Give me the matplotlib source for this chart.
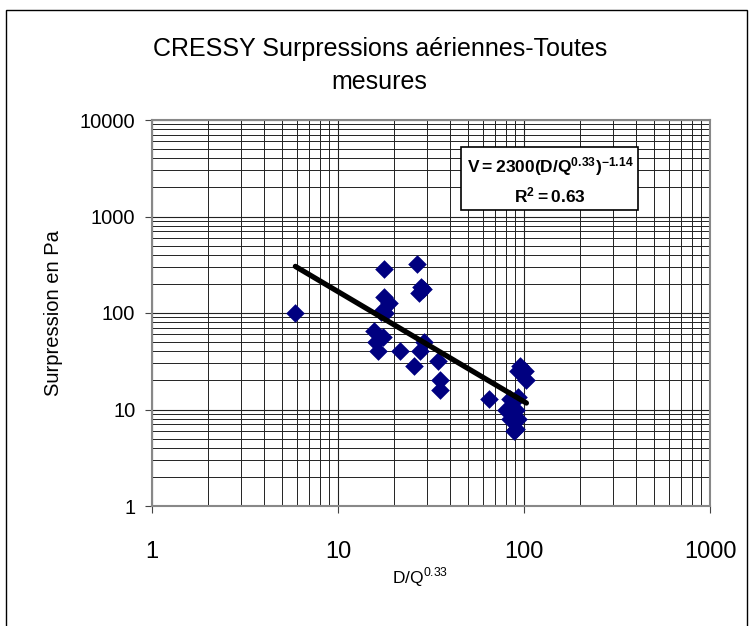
import matplotlib
matplotlib.use("Agg")
import matplotlib.pyplot as plt
import numpy as np
from matplotlib.patches import Rectangle

plt.rcParams['font.family'] = ['Liberation Sans', 'DejaVu Sans']
plt.rcParams['mathtext.fontset'] = 'custom'
plt.rcParams['mathtext.rm'] = 'Liberation Sans'
plt.rcParams['mathtext.bf'] = 'Liberation Sans:bold'

# D/Q^0.33 et surpression (Pa)
dq = [5.9, 17.7, 26.5, 27.9, 27.2, 28.8, 17.7, 18.8, 17.0, 17.9,
      15.6, 17.5, 16.0, 16.5, 21.5, 29.0, 27.5, 25.5, 34.5, 35.5,
      35.5, 65.0, 95.0, 101.0, 93.0, 103.0, 84.0, 93.0, 80.0, 86.0,
      91.0, 84.0, 93.0, 88.0, 91.0]
surp = [100, 285, 325, 185, 160, 176, 145, 128, 103, 100,
        65, 57, 50, 40, 40, 50, 40, 28, 32, 20,
        16, 13, 28, 25, 25, 20, 13, 13.6, 10, 10,
        10, 8, 8, 6, 6.3]

# loi puissance ajustee
coef_a = 2300
coef_b = -1.14
r2 = 0.63

fig = plt.figure(figsize=(7.52, 6.26), dpi=100)
ax = fig.add_axes([152/752, 120/626, 558/752, 386/626])

ax.set_xscale('log')
ax.set_yscale('log')
ax.set_xlim(1, 1000)
ax.set_ylim(1, 10000)

ax.grid(True, which='major', color='#222222', linewidth=0.8)
ax.grid(True, which='minor', color='#222222', linewidth=0.7)
ax.set_axisbelow(True)

ax.scatter(dq, surp, marker='D', s=90, color='#000080', zorder=3, linewidths=0)

xs = np.linspace(min(dq), max(dq), 50)
ax.plot(xs, coef_a * xs ** coef_b, color='black', linewidth=3.8, zorder=4,
        solid_capstyle='round')

ax.set_xticks([1, 10, 100, 1000])
ax.set_xticklabels(['1', '10', '100', '1000'], fontsize=17)
ax.set_yticks([1, 10, 100, 1000, 10000])
ax.set_yticklabels(['1', '10', '100', '1000', '10000'], fontsize=14.5)
ax.tick_params(which='major', direction='out', length=5, color='#444444', pad=7)
ax.tick_params(axis='x', pad=20)
ax.tick_params(which='minor', length=0)

for sp in ax.spines.values():
    sp.set_color('#888888')
    sp.set_linewidth(1.5)

ax.set_xlabel(r'D/Q$^{0.33}$', fontsize=12.5)
ax.xaxis.set_label_coords(0.48, -0.155)
ax.set_ylabel('Surpression en Pa', fontsize=14.5, labelpad=12)

fig.text(0.505, 0.895, "CRESSY Surpressions aériennes-Toutes\nmesures",
         ha='center', va='center', fontsize=18, linespacing=1.45)

ax.text(0.713, 0.845,
        r'$\mathbf{V = 2300(D/Q^{0.33})^{-1.14}}$' + '\n' + r'$\mathbf{R^2 = 0.63}$',
        transform=ax.transAxes, ha='center', va='center', fontsize=12.5,
        linespacing=1.45, zorder=5,
        bbox=dict(boxstyle='square,pad=0.3', facecolor='white',
                  edgecolor='black', linewidth=1.2))

fig.patches.append(Rectangle((6/752, -0.1), 741/752, 1.1 - 10/626,
                             transform=fig.transFigure, fill=False,
                             edgecolor='black', linewidth=1.0))

fig.savefig('out.png', dpi=100)
